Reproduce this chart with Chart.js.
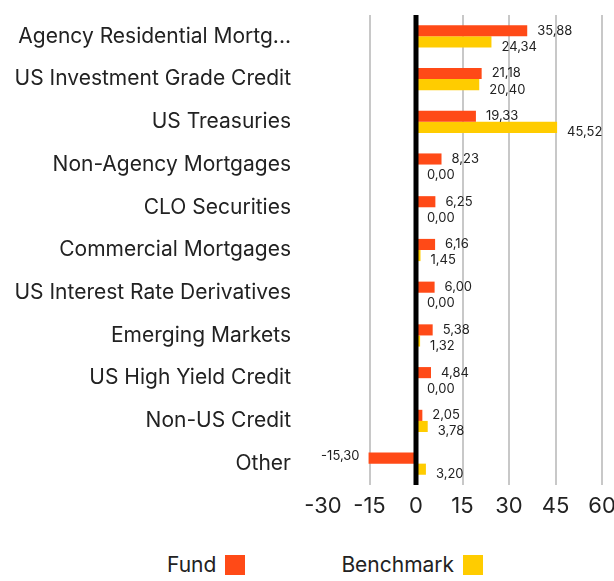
<!DOCTYPE html>
<html>
<head>
<meta charset="utf-8">
<script src="https://cdn.jsdelivr.net/npm/chart.js@4"></script>
<style>
  body { margin: 0; background: #fff; font-family: Inter, sans-serif; }
  #wrap { position: relative; width: 614px; height: 530px; }
  #legend { position: absolute; top: 555px; left: 167px; display: flex; gap: 96px; font-size: 21px; line-height: 20px; color: #222; }
  .item { display: flex; align-items: center; }
  .box { width: 20px; height: 20px; margin-left: 9px; }
</style>
</head>
<body>
<div id="wrap"><canvas id="chart"></canvas></div>
<div id="legend"></div>
<script>
// categorias y valores (%)
const categories = [
    'Agency Residential Mortg...',
    'US Investment Grade Credit',
    'US Treasuries',
    'Non-Agency Mortgages',
    'CLO Securities',
    'Commercial Mortgages',
    'US Interest Rate Derivatives',
    'Emerging Markets',
    'US High Yield Credit',
    'Non-US Credit',
    'Other'
];
const fundValues = [35.88, 21.18, 19.33, 8.23, 6.25, 6.16, 6.00, 5.38, 4.84, 2.05, -15.30];
const benchmarkValues = [24.34, 20.40, 45.52, 0.00, 0.00, 1.45, 0.00, 1.32, 0.00, 3.78, 3.20];
const seriesNames = ['Fund', 'Benchmark'];
const seriesColors = ['#ff4a17', '#ffcc00'];

function fmt(v) {
    return v.toFixed(2).replace('.', ',');
}

// etiquetas de valor junto a cada barra
const valueLabels = {
    id: 'valueLabels',
    afterDatasetsDraw(chart) {
        const ctx = chart.ctx;
        const zeroX = chart.scales.x.getPixelForValue(0);
        ctx.save();
        ctx.font = '13px Inter, sans-serif';
        ctx.fillStyle = '#222';
        ctx.textBaseline = 'middle';
        chart.data.datasets.forEach(function (ds, di) {
            chart.getDatasetMeta(di).data.forEach(function (bar, i) {
                const v = ds.data[i];
                const dy = di === 0 ? 0 : 5;
                if (v < 0) {
                    ctx.textAlign = 'right';
                    ctx.fillText(fmt(v), bar.x - 9, bar.y + dy - 2);
                } else {
                    ctx.textAlign = 'left';
                    const x = v === 0 ? zeroX + 11 : bar.x + 10;
                    ctx.fillText(fmt(v), x, bar.y + dy);
                }
            });
        });
        // linea del cero
        const area = chart.chartArea;
        ctx.fillStyle = '#000';
        ctx.fillRect(zeroX - 2.5, area.top, 5, area.bottom - area.top);
        ctx.restore();
    }
};

const ctx = document.getElementById('chart').getContext('2d');
new Chart(ctx, {
    type: 'bar',
    data: {
        labels: categories,
        datasets: [
            { label: seriesNames[0], data: fundValues, backgroundColor: seriesColors[0] },
            { label: seriesNames[1], data: benchmarkValues, backgroundColor: seriesColors[1] }
        ]
    },
    options: {
        indexAxis: 'y',
        responsive: true,
        maintainAspectRatio: false,
        animation: false,
        categoryPercentage: 0.52,
        barPercentage: 1,
        layout: { padding: { top: 15, left: 0, right: 0, bottom: 0 } },
        plugins: {
            legend: { display: false },
            tooltip: { enabled: false }
        },
        scales: {
            x: {
                min: -30,
                max: 60,
                border: { display: false },
                grid: {
                    drawTicks: false,
                    lineWidth: 2,
                    color: function (c) {
                        if (c.tick && (c.tick.value === -30 || c.tick.value === 0)) return 'rgba(0,0,0,0)';
                        return '#c8c8c8';
                    }
                },
                ticks: {
                    stepSize: 15,
                    padding: 8,
                    color: '#222',
                    font: { family: 'Inter, sans-serif', size: 22 }
                },
                afterFit: function (scale) {
                    scale.height = 45;
                    scale.paddingLeft = 0;
                    scale.paddingRight = 12;
                }
            },
            y: {
                border: { display: false },
                grid: { display: false, drawTicks: false },
                ticks: {
                    padding: 32,
                    color: '#222',
                    font: { family: 'Inter, sans-serif', size: 21 }
                },
                afterFit: function (scale) {
                    scale.width = 323;
                    scale.paddingTop = 0;
                    scale.paddingBottom = 0;
                }
            }
        }
    },
    plugins: [valueLabels]
});

// leyenda: texto y cuadro a la derecha
const legend = document.getElementById('legend');
seriesNames.forEach(function (name, i) {
    const item = document.createElement('div');
    item.className = 'item';
    item.innerHTML = '<span>' + name + '</span><span class="box" style="background:' + seriesColors[i] + '"></span>';
    legend.appendChild(item);
});
</script>
</body>
</html>
